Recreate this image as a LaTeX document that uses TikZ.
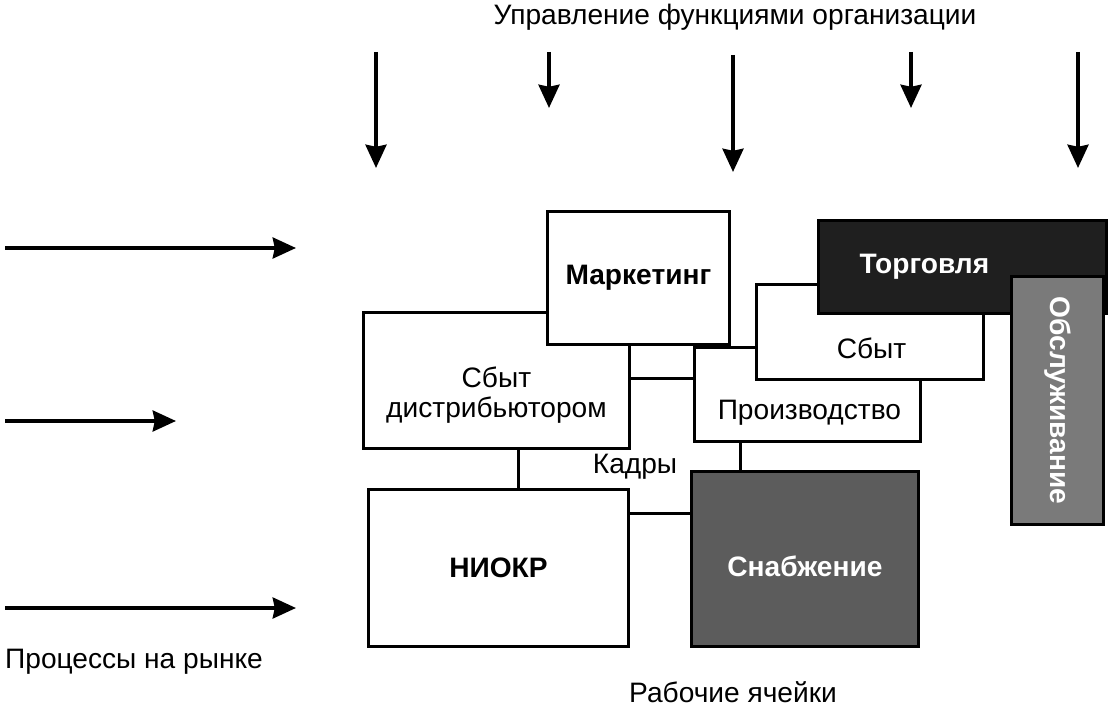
\documentclass[tikz,border=0pt]{standalone}
\usepackage{fontspec}
\setmainfont{Liberation Sans}
\usetikzlibrary{arrows.meta, positioning}

\definecolor{torgfill}{gray}{0.12}
\definecolor{obslfill}{gray}{0.48}
\definecolor{snabfill}{gray}{0.36}

\begin{document}
\begin{tikzpicture}[
  x=0.025cm, y=-0.025cm,
  font=\fontsize{20}{21}\selectfont,
  box/.style = {
    draw, line width=2pt, fill=white, anchor=north west,
    inner sep=0pt, align=center
  },
  bold box/.style  = {box, font=\fontsize{20}{21}\selectfont\bfseries},
  torg box/.style  = {bold box, fill=torgfill, text=white},
  obsl box/.style  = {bold box, fill=obslfill, text=white},
  snab box/.style  = {bold box, fill=snabfill, text=white},
  txt/.style = {inner sep=0pt, align=center},
  bold txt/.style = {txt, font=\fontsize{20}{21}\selectfont\bfseries},
  arr/.style = {-{Stealth[length=0.58cm, width=0.52cm, inset=0.05cm]}, line width=2.8pt},
  link/.style = {line width=2pt},
]
\useasboundingbox (0,0) rectangle (1112,715);

% headings
\node[txt] (upr)  at (735,17)  {Управление функциями организации};
\node[txt] (proc) at (134,662) {Процессы на рынке};
\node[txt] (cell) at (733,692) {Рабочие ячейки};

% control arrows from above
\coordinate (u1) at (376,52);   \coordinate (u1e) at (376,168);
\coordinate (u2) at (549,52);   \coordinate (u2e) at (549,108);
\coordinate (u3) at (733,55);   \coordinate (u3e) at (733,172);
\coordinate (u4) at (911,52);   \coordinate (u4e) at (911,108);
\coordinate (u5) at (1078,52);  \coordinate (u5e) at (1078,168);
\draw[arr] (u1) -- (u1e);
\draw[arr] (u2) -- (u2e);
\draw[arr] (u3) -- (u3e);
\draw[arr] (u4) -- (u4e);
\draw[arr] (u5) -- (u5e);

% market arrows from the left
\coordinate (m1) at (5,248);  \coordinate (m1e) at (296,248);
\coordinate (m2) at (5,421);  \coordinate (m2e) at (176,421);
\coordinate (m3) at (5,608);  \coordinate (m3e) at (296,608);
\draw[arr] (m1) -- (m1e);
\draw[arr] (m2) -- (m2e);
\draw[arr] (m3) -- (m3e);

% working cells
\node[box, minimum width=6.65cm, minimum height=3.4cm] (sbytd) at (362,311) {};
\node[txt] (sbytd-t) at ([yshift=-0.37cm]sbytd.center) {Сбыт\\дистрибьютором};

\node[bold box, minimum width=4.55cm, minimum height=3.325cm] (mark) at (546,210) {Маркетинг};

\node[box, minimum width=5.65cm, minimum height=2.35cm] (proizv) at (693,346) {};
\node[txt] (proizv-t) at ([xshift=0.05cm, yshift=-0.45cm]proizv.center) {Производство};

\node[box, minimum width=5.675cm, minimum height=2.375cm] (sbyt) at (755,283) {};
\node[txt] (sbyt-t) at ([xshift=0.04cm, yshift=-0.41cm]sbyt.center) {Сбыт};

\node[torg box, minimum width=7.2cm, minimum height=2.325cm] (torg) at (817,219) {};
\node[bold txt, text=white] (torg-t) at ([xshift=-0.95cm]torg.center) {Торговля};

\node[obsl box, minimum width=2.3cm, minimum height=6.2cm] (obsl) at (1010,275) {};
\node[bold txt, text=white, rotate=-90] (obsl-t) at (obsl.center) {Обслуживание};

\node[bold box, minimum width=6.5cm, minimum height=3.925cm] (niokr) at (367,488) {НИОКР};

\node[snab box, minimum width=5.675cm, minimum height=4.375cm] (snab) at (690,470) {};
\node[bold txt, text=white] (snab-t) at ([yshift=-0.19cm]snab.center) {Снабжение};

\node[txt] (kadry) at (635,467) {Кадры};

% links between cells
\draw[link] ([xshift=0.55cm]sbytd.south) -- ([xshift=0.55cm]sbytd.south |- niokr.north);
\draw[link] ([yshift=0.05cm]sbytd.east) -- ([yshift=0.05cm]sbytd.east -| proizv.west);
\draw[link] ([xshift=-1.675cm]proizv.south) -- ([xshift=-1.675cm]proizv.south |- snab.north);
\draw[link] ([yshift=1.36cm]niokr.east) -- ([yshift=1.36cm]niokr.east -| snab.west);

\end{tikzpicture}
\end{document}
